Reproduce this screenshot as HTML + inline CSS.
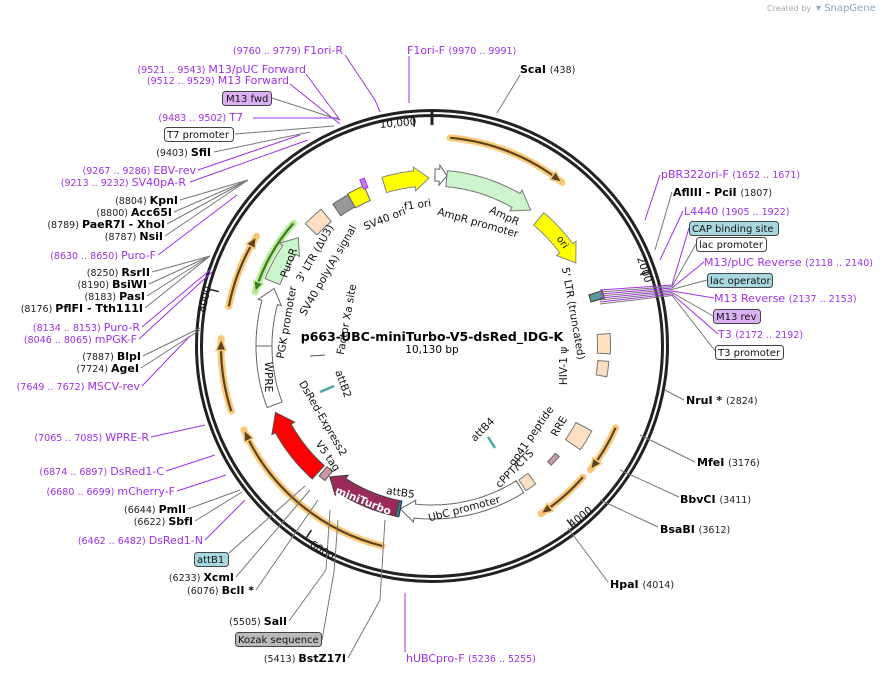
<!DOCTYPE html>
<html><head><meta charset="utf-8"><style>
html,body{margin:0;padding:0;background:#fff}
svg{display:block}
text{font-family:"DejaVu Sans","Liberation Sans",sans-serif}
.n{font-size:9.5px;fill:#222}
.b{font-size:11px;font-weight:bold;fill:#000}
.p{font-size:11px;fill:#a030e8}
.pn{font-size:9.5px;fill:#a030e8}
.f{font-size:10.5px;fill:#111}
.bx{font-size:10px;fill:#111}
</style></head><body>
<svg id="s" width="893" height="675" viewBox="0 0 893 675" xmlns="http://www.w3.org/2000/svg">
<text x="767" y="11" style="font-size:8px;fill:#aaa">Created by</text>
<text x="816" y="11" style="font-size:10px;fill:#8ab">▾ SnapGene</text>
<g id="shapes"></g>
<circle cx="432" cy="346" r="235.5" fill="none" stroke="#222" stroke-width="3"/>
<circle cx="432" cy="346" r="230.5" fill="none" stroke="#222" stroke-width="3"/>
<line x1="432" y1="112" x2="432" y2="125" stroke="#222" stroke-width="3"/>
<g id="lines" stroke-width="1" fill="none"></g>
<text class="f" x="380" y="128" transform="rotate(-5 380 128)">10,000</text>
<text class="f" x="637" y="258" transform="rotate(72 637 258)">2000</text>
<text class="f" x="572" y="528" transform="rotate(-38 572 528)">4000</text>
<text class="f" x="309" y="546" transform="rotate(33 309 546)">6000</text>
<text class="f" x="208" y="300" transform="rotate(-76 208 300)" text-anchor="middle">8000</text>
<text x="432" y="341" text-anchor="middle" style="font-size:12.5px;font-weight:bold">p663-UBC-miniTurbo-V5-dsRed_IDG-K</text>
<text x="432" y="353" text-anchor="middle" style="font-size:10.5px">10,130 bp</text>
<g class="f" text-anchor="middle">
<text x="418" y="208" transform="rotate(-8 418 208)">f1 ori</text>
<text x="386" y="222" transform="rotate(-22 386 222)">SV40 ori</text>
<text x="503" y="219" transform="rotate(25 503 219)">AmpR</text>
<text x="477" y="226" transform="rotate(16 477 226)">AmpR promoter</text>
<text x="560" y="244" transform="rotate(55 560 244)" style="font-size:10px">ori</text>
<text x="570" y="314" transform="rotate(80 570 314)">5' LTR (truncated)</text>
<text x="567" y="366" transform="rotate(-90 567 366)">HIV-1 ψ</text>
<text x="562" y="428" transform="rotate(-60 562 428)">RRE</text>
<text x="534" y="438" transform="rotate(-55 534 438)">gp41 peptide</text>
<text x="517" y="471" transform="rotate(-45 517 471)">cPPT/CTS</text>
<text x="465" y="512" transform="rotate(-15 465 512)">UbC promoter</text>
<text x="400" y="496" transform="rotate(8 400 496)">attB5</text>
<text x="485" y="432" transform="rotate(-45 485 432)">attB4</text>
<text x="362" y="504" transform="rotate(22 362 504)" style="fill:#fff;font-weight:bold">miniTurbo</text>
<text x="325" y="458" transform="rotate(55 325 458)">V5 tag</text>
<text x="320" y="420" transform="rotate(60 320 420)">DsRed-Express2</text>
<text x="340" y="385" transform="rotate(70 340 385)">attB2</text>
<text x="265" y="377" transform="rotate(90 265 377)">WPRE</text>
<text x="290" y="323" transform="rotate(-80 290 323)">PGK promoter</text>
<text x="292" y="264" transform="rotate(-70 292 264)">PuroR</text>
<text x="350" y="320" transform="rotate(-80 350 320)">Factor Xa site</text>
<text x="318" y="255" transform="rotate(-60 318 255)">3' LTR (ΔU3)</text>
<text x="331" y="272" transform="rotate(-60 331 272)">SV40 poly(A) signal</text>
</g>
<text x="343" y="54" text-anchor="end"><tspan class="pn">(9760 .. 9779)  </tspan><tspan class="p">F1ori-R</tspan></text>
<text x="407" y="54"><tspan class="p">F1ori-F  </tspan><tspan class="pn">(9970 .. 9991)</tspan></text>
<text x="520" y="73"><tspan class="b">ScaI  </tspan><tspan class="n">(438)</tspan></text>
<g text-anchor="end">
<text x="306" y="73"><tspan class="pn">(9521 .. 9543)  </tspan><tspan class="p">M13/pUC Forward</tspan></text>
<text x="289" y="84"><tspan class="pn">(9512 .. 9529)  </tspan><tspan class="p">M13 Forward</tspan></text>
<text x="243" y="121"><tspan class="pn">(9483 .. 9502)  </tspan><tspan class="p">T7</tspan></text>
<text x="211" y="156"><tspan class="n">(9403)  </tspan><tspan class="b">SfiI</tspan></text>
<text x="196" y="174"><tspan class="pn">(9267 .. 9286)  </tspan><tspan class="p">EBV-rev</tspan></text>
<text x="186" y="186"><tspan class="pn">(9213 .. 9232)  </tspan><tspan class="p">SV40pA-R</tspan></text>
<text x="178" y="204"><tspan class="n">(8804)  </tspan><tspan class="b">KpnI</tspan></text>
<text x="172" y="216"><tspan class="n">(8800)  </tspan><tspan class="b">Acc65I</tspan></text>
<text x="165" y="228"><tspan class="n">(8789)  </tspan><tspan class="b">PaeR7I   - XhoI</tspan></text>
<text x="163" y="240"><tspan class="n">(8787)  </tspan><tspan class="b">NsiI</tspan></text>
<text x="156" y="259"><tspan class="pn">(8630 .. 8650)  </tspan><tspan class="p">Puro-F</tspan></text>
<text x="150" y="276"><tspan class="n">(8250)  </tspan><tspan class="b">RsrII</tspan></text>
<text x="147" y="288"><tspan class="n">(8190)  </tspan><tspan class="b">BsiWI</tspan></text>
<text x="145" y="300"><tspan class="n">(8183)  </tspan><tspan class="b">PasI</tspan></text>
<text x="143" y="312"><tspan class="n">(8176)  </tspan><tspan class="b">PflFI   - Tth111I</tspan></text>
<text x="140" y="331"><tspan class="pn">(8134 .. 8153)  </tspan><tspan class="p">Puro-R</tspan></text>
<text x="137" y="343"><tspan class="pn">(8046 .. 8065)  </tspan><tspan class="p">mPGK-F</tspan></text>
<text x="141" y="360"><tspan class="n">(7887)  </tspan><tspan class="b">BlpI</tspan></text>
<text x="139" y="372"><tspan class="n">(7724)  </tspan><tspan class="b">AgeI</tspan></text>
<text x="140" y="390"><tspan class="pn">(7649 .. 7672)  </tspan><tspan class="p">MSCV-rev</tspan></text>
<text x="149" y="441"><tspan class="pn">(7065 .. 7085)  </tspan><tspan class="p">WPRE-R</tspan></text>
<text x="164" y="475"><tspan class="pn">(6874 .. 6897)  </tspan><tspan class="p">DsRed1-C</tspan></text>
<text x="175" y="495"><tspan class="pn">(6680 .. 6699)  </tspan><tspan class="p">mCherry-F</tspan></text>
<text x="186" y="513"><tspan class="n">(6644)  </tspan><tspan class="b">PmlI</tspan></text>
<text x="193" y="525"><tspan class="n">(6622)  </tspan><tspan class="b">SbfI</tspan></text>
<text x="203" y="544"><tspan class="pn">(6462 .. 6482)  </tspan><tspan class="p">DsRed1-N</tspan></text>
<text x="234" y="581"><tspan class="n">(6233)  </tspan><tspan class="b">XcmI</tspan></text>
<text x="254" y="594"><tspan class="n">(6076)  </tspan><tspan class="b">BclI *</tspan></text>
<text x="287" y="625"><tspan class="n">(5505)  </tspan><tspan class="b">SalI</tspan></text>
<text x="346" y="662"><tspan class="n">(5413)  </tspan><tspan class="b">BstZ17I</tspan></text>
</g>
<text x="406" y="662"><tspan class="p">hUBCpro-F  </tspan><tspan class="pn">(5236 .. 5255)</tspan></text>
<text x="661" y="178"><tspan class="p">pBR322ori-F  </tspan><tspan class="pn">(1652 .. 1671)</tspan></text>
<text x="673" y="196"><tspan class="b">AflIII   - PciI  </tspan><tspan class="n">(1807)</tspan></text>
<text x="684" y="215"><tspan class="p">L4440  </tspan><tspan class="pn">(1905 .. 1922)</tspan></text>
<text x="704" y="266"><tspan class="p">M13/pUC Reverse  </tspan><tspan class="pn">(2118 .. 2140)</tspan></text>
<text x="714" y="302"><tspan class="p">M13 Reverse  </tspan><tspan class="pn">(2137 .. 2153)</tspan></text>
<text x="718" y="338"><tspan class="p">T3  </tspan><tspan class="pn">(2172 .. 2192)</tspan></text>
<text x="686" y="404"><tspan class="b">NruI *  </tspan><tspan class="n">(2824)</tspan></text>
<text x="697" y="466"><tspan class="b">MfeI  </tspan><tspan class="n">(3176)</tspan></text>
<text x="680" y="503"><tspan class="b">BbvCI  </tspan><tspan class="n">(3411)</tspan></text>
<text x="660" y="533"><tspan class="b">BsaBI  </tspan><tspan class="n">(3612)</tspan></text>
<text x="610" y="588"><tspan class="b">HpaI  </tspan><tspan class="n">(4014)</tspan></text>
<g class="bx">
<rect x="222.5" y="91.5" width="49" height="14" rx="3" fill="#dcb0f5" stroke="#444"/><text x="226" y="102">M13 fwd</text>
<rect x="164.5" y="127.5" width="69" height="14" rx="3" fill="#fff" stroke="#444"/><text x="167" y="138">T7 promoter</text>
<rect x="689.5" y="221.5" width="89" height="14" rx="3" fill="#a8d8df" stroke="#444"/><text x="692" y="232">CAP binding site</text>
<rect x="696.5" y="237.5" width="70" height="14" rx="3" fill="#fff" stroke="#444"/><text x="699" y="248">lac promoter</text>
<rect x="707.5" y="273.5" width="65" height="14" rx="3" fill="#a8d8df" stroke="#444"/><text x="710" y="284">lac operator</text>
<rect x="713.5" y="309.5" width="47" height="14" rx="3" fill="#dcb0f5" stroke="#444"/><text x="716" y="320">M13 rev</text>
<rect x="715.5" y="345.5" width="68" height="14" rx="3" fill="#fff" stroke="#444"/><text x="718" y="356">T3 promoter</text>
<rect x="194.5" y="552.5" width="34" height="14" rx="3" fill="#a8d8df" stroke="#444"/><text x="197" y="563">attB1</text>
<rect x="235.5" y="632.5" width="86" height="14" rx="3" fill="#bbb" stroke="#444"/><text x="238" y="643">Kozak sequence</text>
</g>
</svg>
<script>
(function(){
var C=[432,346],NS="http://www.w3.org/2000/svg";
function P(r,a){a=a*Math.PI/180;return [C[0]+r*Math.sin(a),C[1]-r*Math.cos(a)];}
function pt(p){return p[0].toFixed(1)+","+p[1].toFixed(1);}
var g=document.getElementById("shapes"),L=document.getElementById("lines");
function add(par,tag,at){var e=document.createElementNS(NS,tag);for(var k in at)e.setAttribute(k,at[k]);par.appendChild(e);return e;}
function feat(a1,a2,r,w,dir,fill,stroke,hd){
 var ri=r-w/2,ro=r+w/2,pts=[],i,n=20,b1=a1,b2=a2;
 if(dir>0)b2=a2-hd; if(dir<0)b1=a1+hd;
 for(i=0;i<=n;i++)pts.push(P(ro,b1+(b2-b1)*i/n));
 if(dir>0){pts.push(P(ro+4,b2));pts.push(P(r,a2));pts.push(P(ri-4,b2));}
 for(i=n;i>=0;i--)pts.push(P(ri,b1+(b2-b1)*i/n));
 if(dir<0){pts.push(P(ri-4,b1));pts.push(P(r,a1));pts.push(P(ro+4,b1));}
 add(g,"polygon",{points:pts.map(pt).join(" "),fill:fill,stroke:stroke||"#666","stroke-width":1});
}
function arcD(r,a1,a2){var p1=P(r,a1),p2=P(r,a2);return "M"+pt(p1)+" A"+r+","+r+" 0 0 1 "+pt(p2);}
function orf(a1,a2,dir,r,halo,line){
 add(g,"path",{d:arcD(r,a1,a2),fill:"none",stroke:halo,"stroke-width":7,"stroke-linecap":"round"});
 add(g,"path",{d:arcD(r,a1,a2),fill:"none",stroke:line,"stroke-width":2.2});
 var a=dir>0?a2:a1,b=dir>0?a2-3.2:a1+3.2,t=P(r,a),l=P(r+5,b),m=P(r-5,b);
 add(g,"polygon",{points:[t,l,m].map(pt).join(" "),fill:line,stroke:halo,"stroke-width":1.5});
}
var OR="#fbc97a",OL="#5a4420";
orf(5,38.5,1,209,OR,OL);orf(114,128,1,201,OR,OL);orf(131,147,1,200,OR,OL);
orf(194,246,1,206,OR,OL);orf(252,272,1,211,OR,OL);orf(281,302,1,207,OR,OL);
orf(287,311.5,-1,185,"#b8ec9c","#3d7a22");
feat(-16.5,-1,168,16,1,"#ffff00","#888",5);
feat(1,5,171,12,1,"#fff","#666",2.5);
feat(5,36,168,16,1,"#ccf5cc","#777",6);
feat(40,60,166,16,1,"#ffff00","#888",6);
feat(86,92.5,172,13,0,"#fde0c2","#777");
feat(95,100,172,11,0,"#fde0c2","#777");
feat(118,125,172,18,0,"#fde0c2","#777");
feat(131,135,166,5,0,"#c99aaa","#666");
feat(143,147,166,13,0,"#fde0c2","#777");
feat(148,191,166,14,1,"#fff","#666",5);
feat(191,192,166,16,0,"#2a8a8a","#225");
feat(192,218,166,16,1,"#9b2a5a","#444",5);
feat(218.5,221,166,12,0,"#c89aaa","#555");
feat(222,247,170,18,1,"#ff0000","#555",6);
feat(249.5,270,168,16,0,"#fff","#666");
feat(270,290,168,16,1,"#fff","#666",5);
feat(292,309,172,16,1,"#ccf5cc","#777",5);
feat(314,321,168,16,0,"#fde0c2","#777");
feat(325,331,166,14,0,"#999","#666");
feat(331,337,166,16,0,"#ffff00","#666");
feat(72,74.5,172,14,0,"#5a9a9a","#333");
feat(336.5,338,176,10,0,"#c080f0","#a030e8");
add(g,"line",{x1:320,y1:392,x2:334,y2:386,stroke:"#4aa","stroke-width":2.5});
add(g,"line",{x1:488,y1:437,x2:495,y2:448,stroke:"#4aa","stroke-width":2.5});
add(g,"line",{x1:310,y1:356,x2:325,y2:355,stroke:"#555","stroke-width":1});
[2000,4000,6000,8000,10000].forEach(function(b){var a=b/10130*360;add(g,"line",{x1:P(229,a)[0],y1:P(229,a)[1],x2:P(220,a)[0],y2:P(220,a)[1],stroke:"#222","stroke-width":1.5});});
var grey="#777",pu="#a030e8";
function ln(pts,c){add(L,"polyline",{points:pts.map(pt).join(" "),stroke:c,fill:"none"});}
ln([[520,75],[497,113]],grey);
ln([[345,55],[375,100],[380,112]],pu);
ln([[409,56],[409,103]],pu);
ln([[306,74],[340,120]],pu);ln([[290,84],[340,124]],pu);
ln([[272,98],[340,120]],grey);ln([[253,118],[338,118]],pu);
ln([[235,134],[334,126]],grey);ln([[214,152],[310,132]],grey);
ln([[198,170],[300,135]],pu);ln([[190,182],[308,140]],pu);
[[180,200],[174,212],[167,224],[165,236]].forEach(function(q){ln([q,[248,180]],grey);});
ln([[158,255],[237,195]],pu);
[[152,272],[149,284],[147,296],[145,308]].forEach(function(q){ln([q,[210,256]],grey);});
ln([[142,327],[210,270]],pu);ln([[139,339],[212,272]],pu);
ln([[143,356],[200,328]],grey);ln([[141,368],[200,330]],grey);
ln([[142,386],[190,336]],pu);
ln([[151,437],[205,425]],pu);ln([[166,471],[215,455]],pu);ln([[177,491],[226,475]],pu);
ln([[188,509],[240,490]],grey);ln([[195,521],[242,492]],grey);ln([[205,540],[245,500]],pu);
ln([[229,553],[305,486]],grey);ln([[236,577],[310,490]],grey);ln([[256,590],[318,500]],grey);
ln([[289,621],[326,570],[330,510]],grey);ln([[322,640],[334,572],[338,520]],grey);
ln([[348,658],[380,600],[385,520]],grey);
ln([[405,652],[405,593]],pu);
ln([[660,175],[645,220]],pu);ln([[672,192],[655,250]],grey);ln([[683,211],[660,260]],pu);
[[689,228],[696,244],[704,262],[707,280],[714,298],[713,316],[718,334],[716,352]].forEach(function(q,i){ln([q,[672,285+i*1.5],[600,290+i*2]],i%2?grey:pu);});
ln([[684,400],[665,390]],grey);ln([[695,462],[640,435]],grey);ln([[679,497],[620,470]],grey);
ln([[658,527],[600,500]],grey);ln([[608,582],[568,528]],grey);
})();
</script>
</body></html>
